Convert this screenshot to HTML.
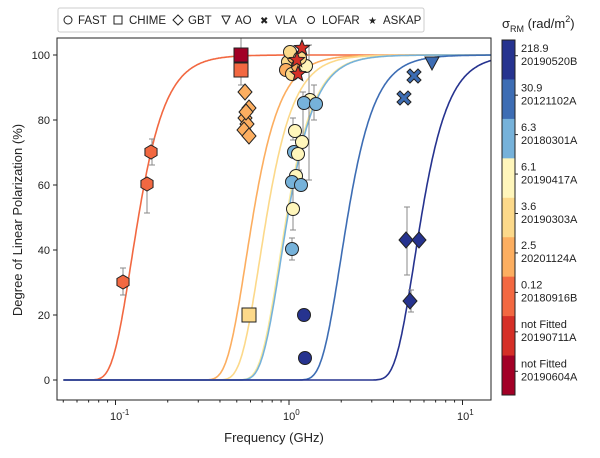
<!DOCTYPE html>
<html><head><meta charset="utf-8"><style>
body{margin:0;background:#fff;}
svg{font-family:"Liberation Sans",sans-serif;}
</style></head><body>
<svg id="s" width="600" height="453" viewBox="0 0 600 453" xmlns="http://www.w3.org/2000/svg">
<rect width="600" height="453" fill="#fff"/>
<defs><clipPath id="cp"><rect x="57" y="38" width="434" height="362"/></clipPath></defs>
<g id="curves" clip-path="url(#cp)"></g>
<g id="pts"></g>
<rect x="57" y="38" width="434" height="362" fill="none" stroke="#222" stroke-width="1"/>
<g id="axes" font-size="11" fill="#222"></g>
<text x="22" y="220" font-size="13" fill="#222" text-anchor="middle" transform="rotate(-90 22 220)">Degree of Linear Polarization (%)</text>
<text x="274" y="442" font-size="13" fill="#222" text-anchor="middle">Frequency (GHz)</text>
<rect x="58" y="8" width="366" height="24" rx="2" fill="#fff" stroke="#ccc"/>
<g font-size="11.5" fill="#222">
<circle cx="68" cy="20" r="4" fill="none" stroke="#222"/><text x="78" y="24">FAST</text>
<rect x="114" y="16" width="8" height="8" fill="none" stroke="#222"/><text x="129" y="24">CHIME</text>
<path d="M178 15 L183 20 L178 25 L173 20Z" fill="none" stroke="#222"/><text x="188" y="24">GBT</text>
<path d="M222 16 L230 16 L226 24Z" fill="none" stroke="#222"/><text x="235" y="24">AO</text>
<text x="260" y="24" font-size="10">✖</text><text x="275" y="24">VLA</text>
<circle cx="311" cy="20" r="3.5" fill="none" stroke="#222"/><text x="322" y="24">LOFAR</text>
<text x="368" y="24" font-size="10">★</text><text x="383" y="24">ASKAP</text>
</g>
<text x="502" y="28" font-size="13" fill="#222">σ<tspan font-size="9" dy="4">RM</tspan><tspan dy="-4"> (rad/m</tspan><tspan font-size="9" dy="-6">2</tspan><tspan dy="6">)</tspan></text>
<g id="cb" font-size="11" fill="#222"></g>
</svg>
<script>
const NS="http://www.w3.org/2000/svg";
function el(p,t,a){const e=document.createElementNS(NS,t);for(const k in a)e.setAttribute(k,a[k]);p.appendChild(e);return e;}
const X=f=>289+173.5*Math.log10(f), Y=p=>380-3.25*p;
const C={b2:"#26338f",b1:"#3d6db4",lb:"#76b2da",ly:"#fff6bb",yo:"#fcd98a",or:"#fcae60",ro:"#f26841",r:"#d52f27",dr:"#a20026"};
const cv=document.getElementById("curves");
[[0.12,C.ro],[2.5,C.or],[3.6,C.yo],[6.1,"#fbe99a"],[6.3,C.lb],[30.9,C.b1],[218.9,C.b2]].forEach(([s,c])=>{
 let d="";for(let i=0;i<=500;i++){const lf=-1.3+i*2.5/500,f=Math.pow(10,lf),l=0.3/f;const p=100*Math.exp(-2*s*s*Math.pow(l,4));d+=(i?"L":"M")+X(f).toFixed(1)+" "+Y(p).toFixed(1);}
 el(cv,"path",{d,fill:"none",stroke:c,"stroke-width":1.6});});
const ax=document.getElementById("axes");
[0,20,40,60,80,100].forEach(v=>{el(ax,"line",{x1:53,x2:57,y1:Y(v),y2:Y(v),stroke:"#222"});el(ax,"text",{x:50,y:Y(v)+4,"text-anchor":"end"}).textContent=v;});
for(let e=-2;e<=1;e++)for(let m=1;m<10;m++){const x=289+173.5*(e+Math.log10(m));if(x<57||x>491)continue;el(ax,"line",{x1:x,x2:x,y1:400,y2:m==1?405:402.5,stroke:"#222"});}
[["10","-1",116],["10","0",289],["10","1",463]].forEach(([b,e,x])=>{const t=el(ax,"text",{x:x-6,y:420});t.innerHTML=b+'<tspan font-size="8" dy="-5">'+e+'</tspan>';});
const cb=document.getElementById("cb");
const cbs=[[C.b2,"218.9","20190520B"],[C.b1,"30.9","20121102A"],[C.lb,"6.3","20180301A"],[C.ly,"6.1","20190417A"],[C.yo,"3.6","20190303A"],[C.or,"2.5","20201124A"],[C.ro,"0.12","20180916B"],[C.r,"not Fitted","20190711A"],[C.dr,"not Fitted","20190604A"]];
const h=355/9;cbs.forEach(([c,a,b],i)=>{const y=40+i*h;el(cb,"rect",{x:502,y,width:13,height:h+0.5,fill:c});el(cb,"line",{x1:515,x2:518,y1:y+h/2-4,y2:y+h/2-4,stroke:"#222"});el(cb,"text",{x:521,y:y+12}).textContent=a;el(cb,"text",{x:521,y:y+25}).textContent=b;});
el(cb,"rect",{x:502,y:40,width:13,height:355,fill:"none",stroke:"#222"});
const P=document.getElementById("pts");
function eb(x,y1,y2){el(P,"line",{x1:x,x2:x,y1,y2,stroke:"#888"});el(P,"line",{x1:x-3,x2:x+3,y1,y2:y1,stroke:"#888"});el(P,"line",{x1:x-3,x2:x+3,y1:y2,y2,stroke:"#888"});}
const st={stroke:"#222","stroke-width":1};
function circ(x,y,c,r=6.5){el(P,"circle",Object.assign({cx:x,cy:y,r,fill:c},st));}
function sq(x,y,c){el(P,"rect",Object.assign({x:x-7,y:y-7,width:14,height:14,fill:c},st));}
function dia(x,y,c){el(P,"path",Object.assign({d:`M${x} ${y-8}L${x+7} ${y}L${x} ${y+8}L${x-7} ${y}Z`,fill:c},st));}
function hex(x,y,c){let d="";for(let i=0;i<6;i++){const a=Math.PI/3*i+Math.PI/6;d+=(i?"L":"M")+(x+7*Math.cos(a))+" "+(y+7*Math.sin(a));}el(P,"path",Object.assign({d:d+"Z",fill:c},st));}
function star(x,y,c){let d="";for(let i=0;i<10;i++){const r=i%2?3.5:8,a=-Math.PI/2+i*Math.PI/5;d+=(i?"L":"M")+(x+r*Math.cos(a)).toFixed(1)+" "+(y+r*Math.sin(a)).toFixed(1);}el(P,"path",Object.assign({d:d+"Z",fill:c},st));}
function cross(x,y,c){el(P,"path",Object.assign({d:`M${x-7} ${y-4}L${x-4} ${y-7}L${x} ${y-3}L${x+4} ${y-7}L${x+7} ${y-4}L${x+3} ${y}L${x+7} ${y+4}L${x+4} ${y+7}L${x} ${y+3}L${x-4} ${y+7}L${x-7} ${y+4}L${x-3} ${y}Z`,fill:c},st));}
function tri(x,y,c){el(P,"path",Object.assign({d:`M${x-7} ${y-6}L${x+7} ${y-6}L${x} ${y+7}Z`,fill:c},st));}
// hexagons
eb(123,268,295);hex(123,282,C.ro);eb(147,184,213);hex(147,184,C.ro);eb(152,139,165);hex(151,152,C.ro);
// squares
eb(241,38,85);sq(241,55,C.dr);sq(241,70,C.ro);sq(249,315,C.yo);
// diamonds GBT
[[245,92],[249,108],[245,118],[247,124],[244,130],[249,136],[246,112]].forEach(([x,y])=>dia(x,y,C.or));
// error bars FAST
eb(309,45,180);eb(303,92,140);eb(314,85,120);eb(293,118,140);eb(299,140,170);eb(293,180,230);eb(292,238,260);
// cluster
[[288,62,C.yo],[294,57,C.or],[286,70,C.or],[292,74,C.yo],[298,66,C.or],[290,52,C.yo],[306,66,C.ly],[300,58,C.yo]].forEach(([x,y,c])=>circ(x,y,c));
star(302,48,C.r);star(297,60,C.r);star(298,74,C.r);
// FAST circles
circ(310,100,C.ly);circ(304,103,C.lb);circ(316,104,C.lb);
circ(295,131,C.ly);circ(302,142,C.ly);circ(294,152,C.lb);circ(298,154,C.ly);
circ(296,176,C.ly);circ(292,182,C.lb);circ(301,185,C.lb);circ(293,209,C.ly);circ(292,249,C.lb);
circ(304,315,C.b2);circ(305,358,C.b2);
// VLA, AO
cross(404,98,C.b1);cross(414,76,C.b1);tri(432,63,C.b1);
// dark blue diamonds
eb(407,207,275);dia(406,240,C.b2);dia(419,240,C.b2);eb(411,290,312);dia(410,301,C.b2);
</script>
</body></html>
